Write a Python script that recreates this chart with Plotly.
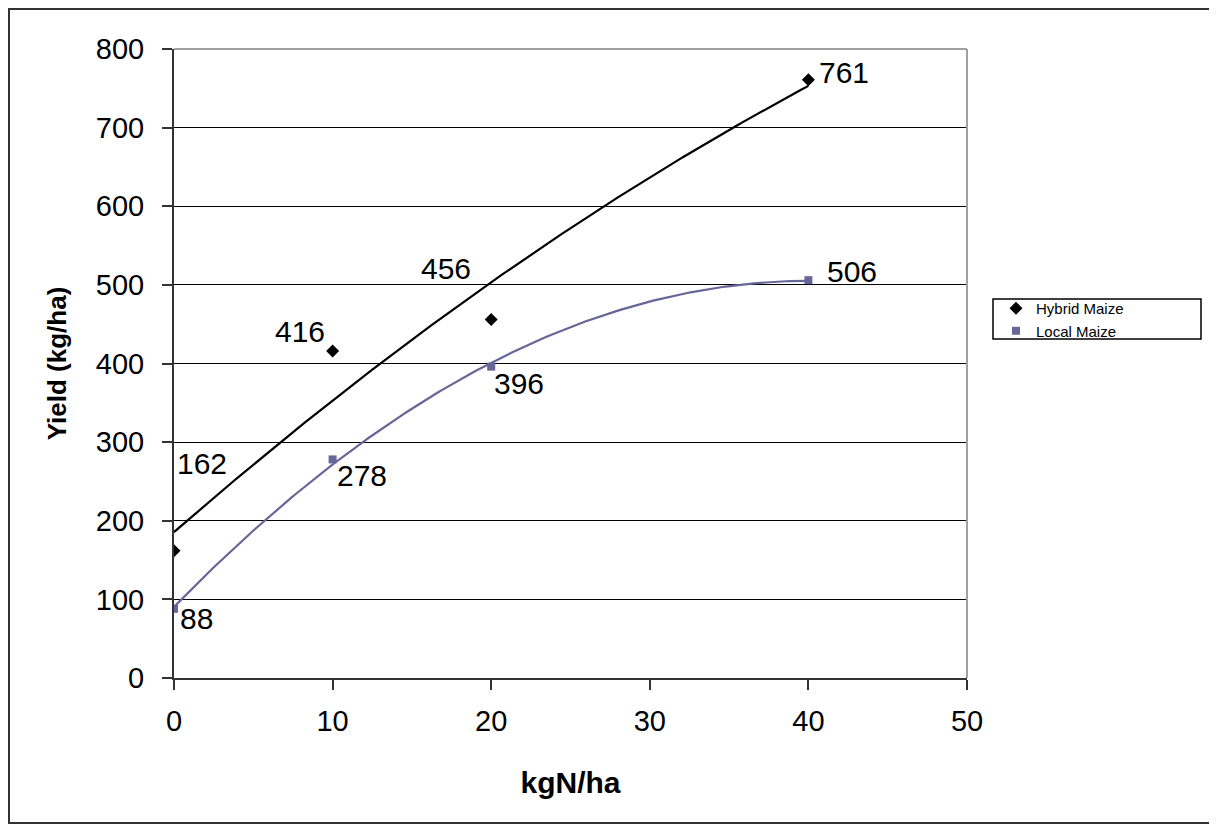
import numpy as np
import plotly.graph_objects as go

nitrogen = [0, 10, 20, 40]
hybrid_yield = [162, 416, 456, 761]
local_yield = [88, 278, 396, 506]
x_ticks = [0, 10, 20, 30, 40, 50]
y_ticks = [0, 100, 200, 300, 400, 500, 600, 700, 800]

OFF = 8  # page body margin
W, H = 1217 - OFF, 825 - OFF
# plot area in page pixels: x 174..967, y 49..677.5
L = 174 - OFF
T = 49 - OFF
R = W - (967 - OFF)
B = H - (678 - OFF)
pw, ph = W - L - R, H - T - B

def px(xp):
    return (xp - OFF - L) / pw

def py(yp):
    return (H - B - (yp - OFF)) / ph

FONT = "Liberation Sans, Arial, sans-serif"
HYB = "#000000"
LOC = "#666699"

fig = go.Figure()

xs = np.linspace(min(nitrogen), max(nitrogen), 200)
for yv, col in [(hybrid_yield, HYB), (local_yield, LOC)]:
    coef = np.polyfit(nitrogen, yv, 2)
    fig.add_trace(go.Scatter(x=xs, y=np.polyval(coef, xs), mode="lines",
                             line=dict(color=col, width=2.2), showlegend=False,
                             hoverinfo="skip"))

fig.add_trace(go.Scatter(x=nitrogen, y=hybrid_yield, mode="markers", name="Hybrid Maize",
                         marker=dict(symbol="diamond", size=10, color=HYB)))
fig.add_trace(go.Scatter(x=nitrogen, y=local_yield, mode="markers", name="Local Maize",
                         marker=dict(symbol="square", size=8, color=LOC)))

hyb_off = [(28, -87), (-33, -19), (-45, -51), (36, -7)]
loc_off = [(22, 10), (29, 16), (28, 17), (44, -9)]
for vals, offs in [(hybrid_yield, hyb_off), (local_yield, loc_off)]:
    for xv, yv, (dx, dy) in zip(nitrogen, vals, offs):
        fig.add_annotation(x=xv, y=yv, text=str(yv), showarrow=False,
                           xshift=dx, yshift=-dy,
                           font=dict(family=FONT, size=30, color="black"))

shapes = [
    dict(type="line", xref="paper", yref="paper", x0=0, x1=1, y0=1, y1=1,
         line=dict(color="#a0a0a0", width=2), layer="above"),
    dict(type="line", xref="paper", yref="paper", x0=1, x1=1, y0=0, y1=1,
         line=dict(color="#a0a0a0", width=2), layer="above"),
    dict(type="rect", xref="paper", yref="paper", x0=px(9), x1=px(1215),
         y0=py(823), y1=py(9), line=dict(color="#333333", width=2)),
    dict(type="rect", xref="paper", yref="paper", x0=px(993), x1=px(1201),
         y0=py(339), y1=py(299), line=dict(color="black", width=1.5)),
]

fig.update_layout(
    width=W, height=H,
    margin=dict(l=L, r=R, t=T, b=B),
    paper_bgcolor="white", plot_bgcolor="white",
    font=dict(family=FONT, color="black"),
    shapes=shapes,
    legend=dict(x=px(996), y=py(292), xanchor="left", yanchor="top",
                bgcolor="rgba(0,0,0,0)", borderwidth=0,
                font=dict(family=FONT, size=15, color="black"),
                tracegroupgap=0),
    xaxis=dict(range=[0, 50], tickvals=x_ticks, showgrid=False, zeroline=False,
               showline=True, linecolor="#333333", linewidth=2,
               ticks="outside", ticklen=10, tickwidth=1.5, tickcolor="#333333",
               ticklabelstandoff=6,
               tickfont=dict(family=FONT, size=29),
               title=dict(text="<b>kgN/ha</b>", font=dict(family=FONT, size=30),
                          standoff=36)),
    yaxis=dict(range=[0, 800], tickvals=y_ticks, showgrid=True, gridcolor="black",
               gridwidth=1.2, zeroline=False,
               showline=True, linecolor="#333333", linewidth=2,
               ticks="outside", ticklen=10, tickwidth=1.5, tickcolor="#333333",
               ticklabelstandoff=12,
               tickfont=dict(family=FONT, size=29),
               title=dict(text="<b>Yield (kg/ha)</b>", font=dict(family=FONT, size=26),
                          standoff=22)),
)

fig.write_html("out.html")
